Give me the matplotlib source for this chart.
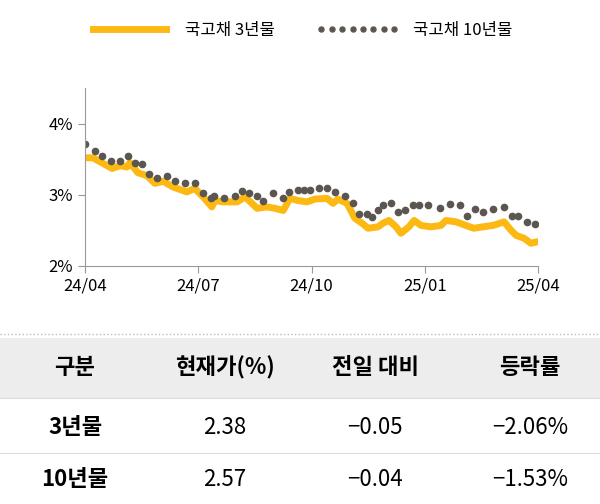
import matplotlib
matplotlib.use("Agg")
import matplotlib.pyplot as plt
from matplotlib.patches import Rectangle

plt.rcParams['font.family'] = ['Noto Sans CJK KR', 'Noto Sans CJK JP', 'Noto Sans CJK SC', 'DejaVu Sans']

# x in months since 24/04
x10 = [0.0, 0.27, 0.45, 0.69, 0.93, 1.14, 1.32, 1.51, 1.70, 1.91, 2.17, 2.38, 2.65, 2.91, 3.13, 3.34, 3.42, 3.69, 3.97,
       4.16, 4.34, 4.56, 4.72, 4.98, 5.24, 5.40, 5.64, 5.80, 5.95, 6.20, 6.41, 6.62, 6.89, 7.10, 7.26, 7.47, 7.60,
       7.77, 7.90, 8.11, 8.30, 8.48, 8.69, 8.85, 9.09, 9.40, 9.67, 9.94, 10.12, 10.33, 10.54, 10.81, 11.10, 11.31,
       11.47, 11.71, 11.92]
y10 = [3.71, 3.61, 3.55, 3.47, 3.47, 3.54, 3.45, 3.43, 3.29, 3.23, 3.26, 3.20, 3.16, 3.16, 3.03, 2.95, 2.99, 2.95, 2.99,
       3.06, 3.03, 2.99, 2.91, 3.02, 2.95, 3.04, 3.07, 3.07, 3.07, 3.09, 3.10, 3.04, 2.99, 2.88, 2.73, 2.73, 2.69,
       2.78, 2.85, 2.88, 2.76, 2.78, 2.85, 2.85, 2.85, 2.81, 2.87, 2.85, 2.70, 2.80, 2.76, 2.80, 2.83, 2.70,
       2.70, 2.62, 2.59]

x3 = [0.0, 0.21, 0.48, 0.72, 0.93, 1.11, 1.19, 1.40, 1.64, 1.85, 2.07, 2.33, 2.70, 2.91, 3.13, 3.36, 3.44, 3.66, 4.03,
      4.24, 4.56, 4.82, 5.03, 5.25, 5.43, 5.64, 5.88, 6.09, 6.41, 6.57, 6.70, 6.94, 7.15, 7.34, 7.50, 7.76, 7.89,
      8.05, 8.24, 8.37, 8.58, 8.72, 8.90, 9.17, 9.43, 9.56, 9.83, 10.09, 10.30, 10.54, 10.81, 11.10, 11.29, 11.42,
      11.63, 11.81, 11.98]
y3 = [3.52, 3.52, 3.44, 3.37, 3.41, 3.39, 3.45, 3.31, 3.27, 3.16, 3.19, 3.11, 3.04, 3.09, 2.97, 2.83, 2.92, 2.90, 2.90,
      2.97, 2.81, 2.83, 2.81, 2.78, 2.95, 2.92, 2.90, 2.94, 2.95, 2.88, 2.94, 2.88, 2.67, 2.60, 2.53, 2.55, 2.60,
      2.64, 2.55, 2.46, 2.55, 2.64, 2.57, 2.55, 2.57, 2.64, 2.62, 2.57, 2.53, 2.55, 2.57, 2.62, 2.50, 2.43,
      2.39, 2.32, 2.34]

xticks = [0, 3, 6, 9, 12]
xticklabels = ['24/04', '24/07', '24/10', '25/01', '25/04']
yticks = [2, 3, 4]
yticklabels = ['2%', '3%', '4%']

header = ['구분', '현재가(%)', '전일 대비', '등락률']
rows = [['3년물', '2.38', '-0.05', '-2.06%'],
        ['10년물', '2.57', '-0.04', '-1.53%']]

W, H = 600, 504
fig = plt.figure(figsize=(6, 5.04), dpi=100)
ax = fig.add_axes([85 / W, 1 - 266 / H, (538 - 85) / W, (266 - 88) / H])

yellow = '#FDB913'
grey = '#5B5650'
l3, = ax.plot(x3, y3, color=yellow, lw=5, solid_joinstyle='round', label='국고채 3년물')
l10, = ax.plot(x10, y10, ls='none', marker='o', ms=4.5, color=grey, label='국고채 10년물')

ax.set_xlim(0, 12)
ax.set_ylim(2, 4.5)
ax.set_xticks(xticks)
ax.set_xticklabels(xticklabels, fontsize=12)
ax.set_yticks(yticks)
ax.set_yticklabels(yticklabels, fontsize=12)
for s in ['top', 'right']:
    ax.spines[s].set_visible(False)
for s in ['left', 'bottom']:
    ax.spines[s].set_color('#999999')
ax.tick_params(color='#999999', length=5)

fig.legend(handles=[l3, l10], loc='center', bbox_to_anchor=(0.5, 1 - 30 / H),
           ncol=2, frameon=False, fontsize=12, handlelength=5, columnspacing=2.5,
           numpoints=8, markerscale=0.8)

# table
fig.add_artist(Rectangle((0, 1 - 398 / H), 1, 60 / H, transform=fig.transFigure,
                         facecolor='#EDEDED', edgecolor='none'))
fig.add_artist(plt.Line2D([0, 1], [1 - 334 / H] * 2, transform=fig.transFigure,
                          color='#BBBBBB', lw=1, ls=':'))
for yy in [398, 453]:
    fig.add_artist(plt.Line2D([0, 1], [1 - yy / H] * 2, transform=fig.transFigure,
                              color='#DDDDDD', lw=0.8))
cols = [75, 225, 375, 530]
for c, t in zip(cols, header):
    fig.text(c / W, 1 - 368 / H, t, ha='center', va='center', fontsize=16, fontweight='bold')
for r, yy in zip(rows, [428, 480]):
    for i, (c, t) in enumerate(zip(cols, r)):
        fig.text(c / W, 1 - yy / H, t.replace('-', '−'), ha='center', va='center', fontsize=16,
                 fontweight='bold' if i == 0 else 'normal')

fig.savefig('out.png', dpi=100)
